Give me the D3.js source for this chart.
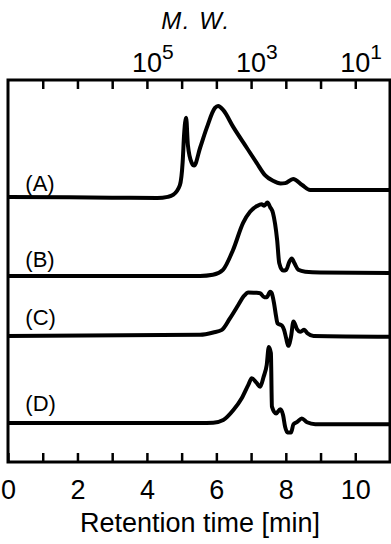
<!DOCTYPE html>
<html>
<head>
<meta charset="utf-8">
<script src="https://cdn.jsdelivr.net/npm/d3@7"></script>
<style>
  body { margin: 0; background: #fff; }
  svg { display: block; font-family: "Liberation Sans", Arial, sans-serif; }
</style>
</head>
<body>
<div id="chart"></div>
<script>
// chromatograms: [retention time (min), relative intensity]
const traceA = [[0, 0.3], [3.0, 0.1], [4.3, 0], [4.6, 0.3], [4.75, 0.8], [4.95, 3.4], [5.03, 9.5], [5.07, 16.5],
  [5.13, 21.0], [5.18, 13.9], [5.29, 9.2], [5.36, 8.5], [5.53, 13.1], [5.72, 18.3], [5.96, 23.6], [6.05, 24.1],
  [6.20, 23.0], [6.48, 18.7], [6.88, 13.1], [7.16, 9.2], [7.40, 6.0], [7.63, 4.5], [7.85, 3.8], [7.98, 3.9],
  [8.21, 5.0], [8.47, 3.4], [8.70, 2.1], [11, 2.1]];
const traceB = [[0, 0], [5.53, 0], [5.90, 0.3], [6.19, 1.6], [6.48, 6.8], [6.77, 13.9], [6.97, 16.8], [7.17, 18.3],
  [7.30, 18.8], [7.38, 18.4], [7.47, 19.2], [7.55, 18.0], [7.63, 16.5], [7.75, 9.4], [7.81, 3.4], [7.92, 1.4],
  [8.01, 1.6], [8.10, 3.7], [8.17, 4.6], [8.25, 3.3], [8.36, 1.6], [8.56, 1.1], [8.99, 0.9], [11, 0.8]];
const traceC = [[0, 0], [5.53, 0.3], [5.91, 0.9], [6.16, 1.6], [6.39, 4.6], [6.63, 8.1], [6.78, 10.3], [6.92, 11.4],
  [7.12, 11.3], [7.26, 11.2], [7.38, 10.1], [7.45, 10.1], [7.55, 11.6], [7.59, 11.3], [7.66, 8.6], [7.72, 5.1],
  [7.76, 3.3], [7.89, 2.7], [7.95, 1.6], [8.01, -0.6], [8.07, -2.6], [8.15, -0.2], [8.22, 3.8], [8.32, 1.8],
  [8.41, 1.1], [8.53, 1.6], [8.62, 0.7], [8.80, 0], [11, -0.2]];
const traceD = [[0, 0], [5.53, 0], [5.91, 0.1], [6.20, 0.8], [6.49, 3.4], [6.73, 6.5], [6.92, 10.0], [7.02, 11.7],
  [7.16, 10.5], [7.26, 9.5], [7.36, 12.1], [7.45, 15.2], [7.51, 19.9], [7.57, 18.3], [7.60, 4.3], [7.72, 2.5],
  [7.84, 3.6], [7.92, 2.1], [7.98, -1.0], [8.05, -2.5], [8.15, -2.5], [8.22, -0.3], [8.33, 0.3], [8.46, 1.2],
  [8.61, 0.2], [8.85, -0.3], [11, -0.3]];

const labels = ["(A)", "(B)", "(C)", "(D)"];
const offsets = [69.1, 48.7, 33.0, 10.2];   // vertical stacking of the traces
const labelLift = [1.9, 2.4, 2.9, 3.2];

const timeTicks = d3.range(0, 11);
const mwTicks = [4, 7, 10];
const mwExponents = ["5", "3", "1"];

const width = 391, height = 544;
const margin = {top: 80, right: 1, bottom: 82, left: 8};

const x = d3.scaleLinear().domain([0, 11]).range([margin.left, width - margin.right]);
const y = d3.scaleLinear().domain([0, 100]).range([height - margin.bottom, margin.top]);

const svg = d3.select("#chart").append("svg")
    .attr("width", width)
    .attr("height", height);

const line = d3.line()
    .x(d => x(d[0]))
    .y(d => y(d[1]))
    .curve(d3.curveMonotoneX);

// traces
const traces = [traceA, traceB, traceC, traceD];
traces.forEach((t, i) => {
  svg.append("path")
      .datum(t.map(d => [d[0], d[1] + offsets[i]]))
      .attr("fill", "none")
      .attr("stroke", "#000")
      .attr("stroke-width", 4)
      .attr("stroke-linejoin", "round")
      .attr("d", line);

  svg.append("text")
      .attr("x", x(0.5))
      .attr("y", y(offsets[i] + labelLift[i]))
      .attr("font-size", 22)
      .text(labels[i]);
});

// bottom axis, ticks pointing in
svg.append("g")
    .attr("transform", `translate(0,${height - margin.bottom})`)
    .call(d3.axisBottom(x).tickValues(timeTicks).tickSize(-9).tickPadding(18)
        .tickFormat(d => d % 2 ? "" : d))
    .call(g => g.select(".domain").remove())
    .call(g => g.selectAll(".tick line").attr("stroke-width", 2.5))
    .call(g => g.selectAll(".tick text")
        .attr("font-size", 27)
        .attr("font-family", "Liberation Sans, Arial, sans-serif")
        .attr("fill", "#000"));

// top axis (molecular weight)
svg.append("g")
    .attr("transform", `translate(0,${margin.top})`)
    .call(d3.axisTop(x).tickValues(timeTicks.slice(1)).tickSize(-9).tickFormat(""))
    .call(g => g.select(".domain").remove())
    .call(g => g.selectAll(".tick line").attr("stroke-width", 2.5));

mwTicks.forEach((t, i) => {
  svg.append("text")
      .attr("x", x(t))
      .attr("y", 71.5)
      .attr("text-anchor", "middle")
      .attr("font-size", 27)
      .text("10");
  svg.append("text")
      .attr("x", x(t) + 15)
      .attr("y", 59)
      .attr("font-size", 21)
      .text(mwExponents[i]);
});

// frame
svg.append("rect")
    .attr("x", x(0))
    .attr("y", y(100))
    .attr("width", x(11) - x(0))
    .attr("height", y(0) - y(100))
    .attr("fill", "none")
    .attr("stroke", "#000")
    .attr("stroke-width", 3);

// axis titles
svg.append("text")
    .attr("x", 196)
    .attr("y", 28.5)
    .attr("text-anchor", "middle")
    .attr("font-size", 24)
    .attr("font-style", "italic")
    .attr("letter-spacing", 1.5)
    .text("M. W.");

svg.append("text")
    .attr("x", (x(0) + x(11)) / 2 + 1)
    .attr("y", 531.5)
    .attr("text-anchor", "middle")
    .attr("font-size", 27)
    .text("Retention time [min]");
</script>
</body>
</html>
